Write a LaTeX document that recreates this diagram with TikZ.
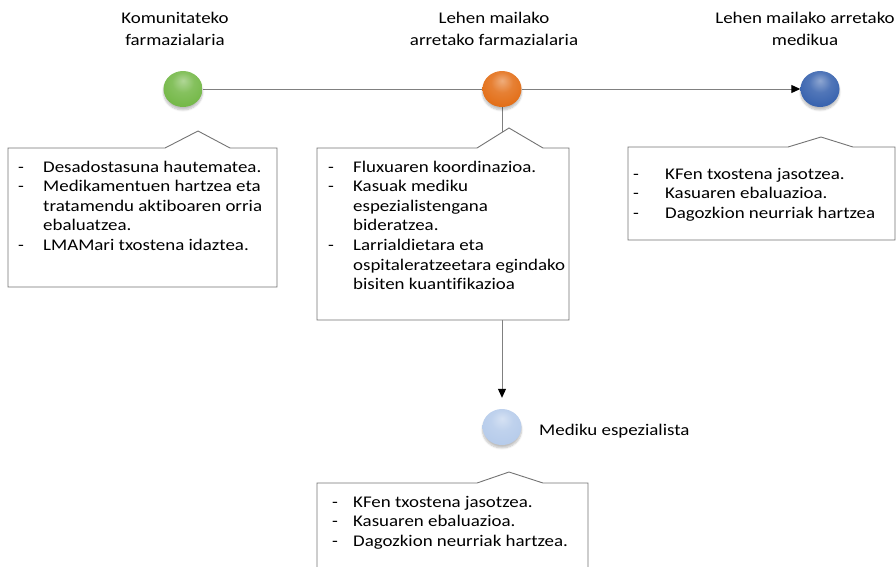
\documentclass[tikz,border=0pt]{standalone}
\usepackage{fontspec}
\setmainfont{Carlito}[FakeStretch=1.16,RawFeature={-liga}]
\usetikzlibrary{arrows.meta,shapes.geometric,shadows.blur,backgrounds}
\newcommand{\boxfont}{\fontsize{16.3}{19.6}\selectfont}
\newcommand{\headfont}{\fontsize{16.3}{22}\selectfont}
% glossy sphere shading, lighter towards the top
\colorlet{ballcolor}{gray}
\pgfdeclareradialshading[ballcolor]{softball}{\pgfpoint{0bp}{12bp}}{%
  color(0bp)=(ballcolor!55!white);
  color(14bp)=(ballcolor!85!white);
  color(34bp)=(ballcolor);
  color(48bp)=(ballcolor!92!black);
  color(60bp)=(ballcolor!85!black)}
\begin{document}
\begin{tikzpicture}[x=1pt,y=-1pt,
  sphere/.style={ellipse,minimum width=39pt,minimum height=36pt,inner sep=0pt,
    /utils/exec={\colorlet{ballcolor}{#1}},shading=softball,
    blur shadow={shadow xshift=0pt,shadow yshift=-3pt,shadow opacity=25,shadow blur steps=6}},
  conn/.style={draw=black!50,line width=1pt},
  tip/.style={-{Triangle[length=9pt,width=8pt,color=black]}},
  callout/.style={draw=black!55,line width=0.9pt,fill=white,line join=miter},
  head/.style={anchor=base,inner sep=0pt,font=\headfont},
  list/.style={anchor=base west,inner sep=0pt,font=\boxfont}]
\useasboundingbox (0,0) rectangle (896,566);
\clip (0,0) rectangle (896,566);

% actors along the timeline
\node[sphere={rgb,255:red,112;green,182;blue,66}] (kf) at (183,89) {};
\node[sphere={rgb,255:red,226;green,106;blue,16}] (lf) at (502,89) {};
\node[sphere={rgb,255:red,50;green,94;blue,172}] (lm) at (820,89) {};
\node[sphere={rgb,255:red,180;green,202;blue,234}] (me) at (502,427) {};

% titles
\node[head] (tkf) at (175,23) {\begin{tabular}[t]{@{}c@{}}Komunitateko\\farmazialaria\end{tabular}};
\node[head] (tlf) at (494,23) {\begin{tabular}[t]{@{}c@{}}Lehen mailako\\arretako farmazialaria\end{tabular}};
\node[head] (tlm) at (805,23) {\begin{tabular}[t]{@{}c@{}}Lehen mailako arretako\\medikua\end{tabular}};
\node[anchor=base west,inner sep=0pt,font=\headfont] (tme) at (539,435) {Mediku espezialista};

% connectors
\begin{pgfonlayer}{background}
  \draw[conn] (kf) -- (lf);
  \draw[conn,tip] (lf) -- (lm);
  \draw[conn,tip,shorten >=11pt] (lf) -- (me);
\end{pgfonlayer}

% callout boxes
\draw[callout] (8,148) -- (165,148) -- (198,131) -- (230,148) -- (277,148)
  -- (277,287) -- (8,287) -- cycle;
\draw[callout] (317,148) -- (477,148) -- (509,128) -- (543,148) -- (569,148)
  -- (569,320) -- (317,320) -- cycle;
\draw[callout] (628,147) -- (788,147) -- (821,137) -- (853,147) -- (895,147)
  -- (895,240) -- (628,240) -- cycle;
\draw[callout] (317,483) -- (477,483) -- (509,472) -- (543,483) -- (588,483)
  -- (588,590) -- (317,590) -- cycle;

% callout texts
\node[list] (bkf) at (18,172) {\begin{tabular}[t]{@{}p{25pt}@{}l@{}}
  - & Desadostasuna hautematea.\\
  - & Medikamentuen hartzea eta\\
    & tratamendu aktiboaren orria\\
    & ebaluatzea.\\
  - & LMAMari txostena idaztea.
\end{tabular}};
\node[list] (blf) at (328,172) {\begin{tabular}[t]{@{}p{25pt}@{}l@{}}
  - & Fluxuaren koordinazioa.\\
  - & Kasuak mediku\\
    & espezialistengana\\
    & bideratzea.\\
  - & Larrialdietara eta\\
    & ospitaleratzeetara egindako\\
    & bisiten kuantifikazioa
\end{tabular}};
\node[list] (blm) at (633,179) {\begin{tabular}[t]{@{}p{32pt}@{}l@{}}
  - & KFen txostena jasotzea.\\
  - & Kasuaren ebaluazioa.\\
  - & Dagozkion neurriak hartzea
\end{tabular}};
\node[list] (bme) at (332,507) {\begin{tabular}[t]{@{}p{21pt}@{}l@{}}
  - & KFen txostena jasotzea.\\
  - & Kasuaren ebaluazioa.\\
  - & Dagozkion neurriak hartzea.
\end{tabular}};
\end{tikzpicture}
\end{document}
